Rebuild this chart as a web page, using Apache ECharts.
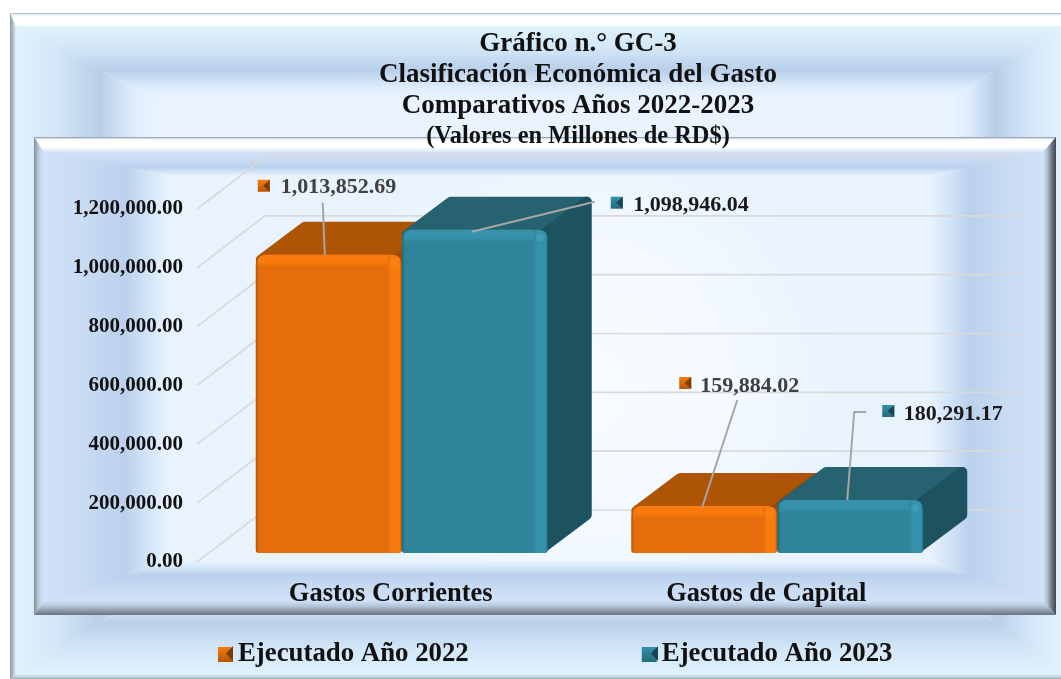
<!DOCTYPE html>
<html><head><meta charset="utf-8">
<style>html,body{margin:0;padding:0;background:#fff}#c{width:1061px;height:679px}</style>
<script src="https://cdn.jsdelivr.net/npm/echarts@6/dist/echarts.min.js"></script>
</head><body><div id="c"></div>
<script>
const categories = ['Gastos Corrientes', 'Gastos de Capital'];
const seriesNames = ['Ejecutado Año 2022', 'Ejecutado Año 2023'];
const values2022 = [1013852.69, 159884.02];
const values2023 = [1098946.04, 180291.17];
const tickValues = [0, 200000, 400000, 600000, 800000, 1000000, 1200000];
const titleLines = ['Gráfico n.° GC-3', 'Clasificación Económica del Gasto', 'Comparativos Años 2022-2023'];
const subtitleLine = '(Valores en Millones de RD$)';

const FONT = '"Liberation Serif","Times New Roman",serif';
const fmt = v => v.toLocaleString('en-US', {minimumFractionDigits: 2, maximumFractionDigits: 2});
const chart = echarts.init(document.getElementById('c'), null, {renderer: 'canvas'});
const G = echarts.graphic;

function band(x0, y0, x1, y1, m, stops, z) {
  const st = a => { const mm = a[a.length-1][0]; return a.map(p => ({offset: p[0]/mm, color: p[1]})); };
  const poly = (pts, g) => ({type: 'polygon', silent: true, z, shape: {points: pts}, style: {fill: g}});
  const [mt, mr, mb, ml] = m;
  return [
    poly([[x0,y0],[x1,y0],[x1-mr,y0+mt],[x0+ml,y0+mt]], new G.LinearGradient(0,0,0,1,st(stops.top))),
    poly([[x0,y1],[x1,y1],[x1-mr,y1-mb],[x0+ml,y1-mb]], new G.LinearGradient(0,1,0,0,st(stops.bottom))),
    poly([[x0,y0],[x0+ml,y0+mt],[x0+ml,y1-mb],[x0,y1]], new G.LinearGradient(0,0,1,0,st(stops.left))),
    poly([[x1,y0],[x1-mr,y0+mt],[x1-mr,y1-mb],[x1,y1]], new G.LinearGradient(1,0,0,0,st(stops.right)))
  ];
}
const glowOuter = [[0,'#dff2fc'],[0.3,'#d2e6f7'],[0.6,'#b9cfe9'],[0.72,'#cbdef4'],[0.85,'#e0eefc'],[1,'#e8f3fe']];
const glowInner = [[0,'#d0e1f7'],[0.3,'#cadcf4'],[0.65,'#bad0ec'],[0.8,'#d0e2f7'],[1,'#e8f3fe']];
const g4 = a => ({top:a, right:a, bottom:a, left:a});
const backdrop = [
  {type:'rect', silent:true, z:-30, shape:{x:60,y:50,width:960,height:600}, style:{fill:'#e8f3fe'}},
  ...band(16, 27, 1061, 674, [72,110,85,140], g4(glowOuter), -29),
  ...band(10, 13, 1061, 679, [14,0.01,5,6], {
    top:[[0,'#a9b9c0'],[1.5,'#dbe8ec'],[3,'#ffffff'],[12,'#ffffff'],[14,'#e2f3fb']],
    right:[[0,'#e0f2fc'],[1,'#e0f2fc']],
    bottom:[[0,'#9aa9b0'],[2,'#c4d4da'],[5,'#dcf0f9']],
    left:[[0,'#8d9ca3'],[3,'#aebfc5'],[6,'#dff2fb']]
  }, -28),
  {type:'rect', silent:true, z:-27, shape:{x:150,y:165,width:790,height:405},
    style:{fill:new G.RadialGradient(0.55,0.55,0.65,[{offset:0,color:'#f8fcff'},{offset:0.55,color:'#f3f9ff'},{offset:1,color:'#e8f3fe'}])}},
  ...band(44, 152, 1043, 601, [24,114,40,125], g4(glowInner), -26),
  ...band(34, 137, 1056, 615, [15,13,14,10], {
    top:[[0,'#7f8c99'],[1.5,'#d4e0e8'],[3,'#ffffff'],[10,'#ffffff'],[15,'#d7e6f8']],
    right:[[0,'#3d4650'],[4,'#6a7480'],[9,'#b3c2d6'],[13,'#d0e1f7']],
    bottom:[[0,'#687280'],[4,'#8b97a7'],[9,'#b6c6da'],[14,'#d0e1f7']],
    left:[[0,'#7f8c95'],[3,'#a8b6c2'],[6,'#c7d7ea'],[10,'#d0e1f7']]
  }, -25)
];

const palettes = [
  {front:'#e56d0b', edge:'#f97b0e', dark:'#b55606', top:'#ae5405', side:'#9c4b05', text:'#404040', hi:'#ff8a20', mark:'#7a3c08'},
  {front:'#2f849a', edge:'#3592aa', dark:'#236a7c', top:'#26626f', side:'#1d5260', text:'#1a1a1a', hi:'#4ba8c4', mark:'#174652'}
];
const legendNotches = [218, 643].map((x, i) => ({type:'polygon', silent:true, z:10,
  shape:{points:[[x+15,646],[x+15,661],[x+8,653.5]]}, style:{fill:palettes[i].mark}}));

const BAR_W = 146, DEPTH_X = 44, DEPTH_Y = 33, BASE_LIFT = 9;
// leader line points and label origins, relative to the bar's front top centre
const callouts = [
  [{lead:[[-6,-52],[-4,0]], mark:[-71,-69], text:[-48,-67]}, {lead:[[33,-106],[-2,1]], mark:[-25,-123], text:[-4,-120]}],
  [{lead:[[120,-28],[-3,2]], mark:[136,-27], text:[158.5,-24]}, {lead:[[16,-88],[4,-88],[-3,0]], mark:[32,-89], text:[53.5,-86]}]
];

function marker(x, y, s, p) {
  return [
    {type:'rect', shape:{x, y:y-s/2, width:s, height:s}, style:{fill:new G.LinearGradient(0,0,0,1,[{offset:0,color:p.edge},{offset:1,color:p.dark}])}},
    {type:'polygon', shape:{points:[[x+s,y-s/2],[x+s,y+s/2],[x+s*0.45,y]]}, style:{fill:p.mark}}
  ];
}

function barSeries(idx, values) {
  const p = palettes[idx];
  return {
    type: 'custom', name: seriesNames[idx], coordinateSystem: 'cartesian2d', z: 3 + idx,
    itemStyle: {color: new G.LinearGradient(0,0,0,1,[{offset:0,color:p.edge},{offset:1,color:p.dark}])},
    encode: {x: 0, y: 1},
    data: values.map((v, i) => [categories[i], v]),
    renderItem(params, api) {
      const i = params.dataIndex, v = api.value(1);
      const c = api.coord([i, v]), b = api.coord([i, 0]);
      const xL = c[0] + 11 + (idx === 0 ? -BAR_W : 0);
      const xR = xL + BAR_W, yT = c[1] - BASE_LIFT, yB = b[1] - BASE_LIFT;
      const r = 5;
      const kids = [
        {type:'polygon', shape:{points:[[xL+r,yT+r],[xL+DEPTH_X+r,yT-DEPTH_Y+r],[xR+DEPTH_X-r,yT-DEPTH_Y+r],[xR-r,yT+r]]},
          style:{fill:p.top, stroke:p.top, lineWidth:2*r, lineJoin:'round'}},
        {type:'polygon', shape:{points:[[xR-r,yT+r],[xR+DEPTH_X-r,yT-DEPTH_Y+r],[xR+DEPTH_X-r,yB-DEPTH_Y-r],[xR-r,yB-r]]},
          style:{fill:p.side, stroke:p.side, lineWidth:2*r, lineJoin:'round'}},
        {type:'rect', shape:{x:xL, y:yT, width:BAR_W, height:yB-yT, r:[9,9,3,3]},
          style:{fill:new G.LinearGradient(0,0,1,0,[{offset:0,color:p.dark},{offset:0.025,color:p.front},{offset:0.90,color:p.front},{offset:0.93,color:p.edge},{offset:0.985,color:p.edge},{offset:1,color:p.dark}])}},
        {type:'rect', shape:{x:xL+2, y:yT, width:BAR_W-16, height:13, r:[8,0,0,0]},
          style:{fill:new G.LinearGradient(0,0,0,1,[{offset:0,color:p.edge},{offset:0.55,color:p.edge},{offset:1,color:p.front}])}},
        {type:'circle', shape:{cx:xR-8, cy:yT+8, r:4}, style:{fill:p.hi, opacity:0.45}}
      ];
      const cx = (xL + xR) / 2, o = callouts[idx][i];
      const leader = o.lead.map(q => [cx + q[0], yT + q[1]]);
      kids.push({type:'polyline', shape:{points:leader}, style:{stroke:'#a6a6a6', lineWidth:2, fill:null}});
      kids.push(...marker(cx + o.mark[0], yT + o.mark[1], 12, p));
      kids.push({type:'text', style:{x:cx + o.text[0], y:yT + o.text[1], text:fmt(v), fill:p.text,
        font:'bold 22px ' + FONT, textVerticalAlign:'middle', textAlign:'left'}});
      return {type:'group', children:kids};
    }
  };
}

chart.setOption({
  animation: false,
  backgroundColor: '#ffffff',
  title: {
    text: titleLines.join('\n'), subtext: subtitleLine,
    left: 578, top: 29, textAlign: 'center', itemGap: 2, padding: 0,
    textStyle: {fontFamily: FONT, fontWeight: 'bold', fontSize: 27, lineHeight: 31, color: '#111'},
    subtextStyle: {fontFamily: FONT, fontWeight: 'bold', fontSize: 24.4, lineHeight: 26, color: '#111'}
  },
  legend: {
    data: seriesNames, left: 218, top: 641, itemWidth: 15, itemHeight: 15, itemGap: 173, icon: 'rect', selectedMode: false,
    textStyle: {fontFamily: FONT, fontWeight: 'bold', fontSize: 26.8, color: '#111'}, padding: 0
  },
  grid: {left: 203, width: 751, top: 209, height: 353},
  xAxis: {type: 'category', data: categories, axisLine: {show:false}, axisTick: {show:false}, splitLine:{show:false},
    axisLabel: {margin: 19, fontFamily: FONT, fontWeight: 'bold', fontSize: 26.5, color: '#111', interval: 0}},
  yAxis: {type: 'value', min: 0, max: 1200000, interval: 200000, axisLine: {show:false}, axisTick: {show:false}, splitLine: {show:false},
    axisLabel: {margin: 20, padding: [2,0,0,0], fontFamily: FONT, fontWeight: 'bold', fontSize: 21, color: '#111', formatter: v => fmt(v)}},
  graphic: {elements: [...backdrop, ...legendNotches]},
  series: [
    {type: 'custom', name: 'grid', z: 1, silent: true, coordinateSystem: 'cartesian2d', encode: {y: 0},
      data: tickValues.map(v => [v]),
      renderItem(params, api) {
        const y = api.coord([0, api.value(0)])[1];
        return {type: 'polyline', shape: {points: [[197,y],[265,y-52],[1021,y-52]]}, style: {stroke:'#d9d9d9', lineWidth:1.6, fill:null}};
      }},
    barSeries(0, values2022),
    barSeries(1, values2023)
  ]
});
</script></body></html>
